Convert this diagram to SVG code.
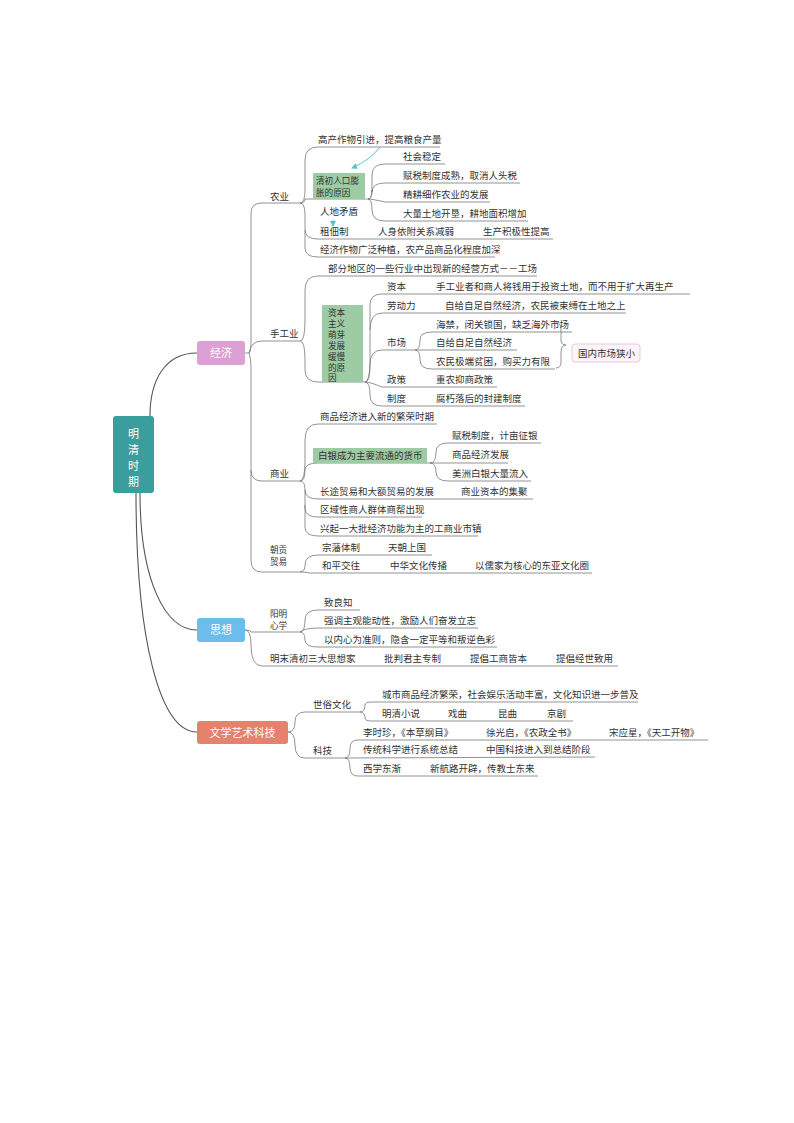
<svg xmlns="http://www.w3.org/2000/svg" width="794" height="1123" viewBox="0 0 794 1123">
<style>
text{font-family:"Noto Sans CJK SC","Liberation Sans",sans-serif;font-size:9.5px;fill:#333}
.s{font-size:8.6px}
.l{fill:none;stroke:#777;stroke-width:0.8}
.t{fill:none;stroke:#555;stroke-width:1.1}
.w{fill:#fff;font-size:11px}
.g{fill:#9dcba4}
.a{fill:none;stroke:#5cc4c4;stroke-width:1}
</style>
<defs><marker id="ar" markerWidth="6" markerHeight="6" refX="5" refY="3" orient="auto"><path d="M0,0 L6,3 L0,6z" fill="#5cc4c4"/></marker></defs>
<rect width="794" height="1123" fill="#fff"/>
<g id="connectors">
<path class="t" d="M150 416 C150 380 165 353 197 353"/>
<path class="t" d="M140 493 C140 580 165 630 197 630"/>
<path class="t" d="M136 493 C136 640 160 732 197 732"/>
<path class="l" d="M245 353 L249 353 Q251 353 251 340 L251 213 Q251 203 262 203 L292 203"/>
<path class="l" d="M249 353 Q251 341 262 341 L300 341"/>
<path class="l" d="M249 353 Q251 358 251 370 L251 470 Q251 481 262 481 L300 481"/>
<path class="l" d="M251 470 L251 560 Q251 572 262 572 L300 572"/>
<path class="l" d="M292 203 L300 203 Q305 203 305 190 L305 160 Q305 147 318 147 L440 147"/>
<path class="l" d="M300 203 Q305 203 305 199 L368 199"/>
<path class="l" d="M300 203 Q305 203 305 215 L305 230 Q305 239 318 239 L553 239"/>
<path class="l" d="M305 230 L305 248 Q305 257 318 257 L495 257"/>
<path class="l" d="M368 199 Q372 199 372 190 L372 175 Q372 164 385 164 L445 164"/>
<path class="l" d="M368 199 Q372 199 372 190 L372 192 Q372 183 385 183 L520 183"/>
<path class="l" d="M368 199 Q372 199 385 202 L490 202"/>
<path class="l" d="M368 199 Q372 199 372 210 Q372 221 385 221 L528 221"/>
<path class="a" d="M380 147 Q370 160 352 168" marker-end="url(#ar)"/>
<path class="a" d="M333 220 L333 226" marker-end="url(#ar)"/>
<path class="l" d="M300 341 Q305 341 305 320 L305 290 Q305 276 318 276 L537 276"/>
<path class="l" d="M300 341 Q305 341 305 360 L305 370 Q305 382 318 382 L365 382"/>
<path class="l" d="M365 382 Q370 382 370 360 L370 305 Q370 294 382 294 L690 294"/>
<path class="l" d="M370 330 Q370 313 382 313 L626 313"/>
<path class="l" d="M365 382 Q370 382 370 365 Q370 350 382 350 L415 350"/>
<path class="l" d="M365 382 Q370 382 382 387 L497 387"/>
<path class="l" d="M365 382 Q370 382 370 395 Q370 406 382 406 L525 406"/>
<path class="l" d="M415 350 Q420 350 420 340 Q420 332 432 332 L572 332"/>
<path class="l" d="M415 350 L517 350"/>
<path class="l" d="M415 350 Q420 350 420 360 Q420 369 432 369 L555 369"/>
<path class="l" d="M556 322 Q561 322 561 330 L561 340 Q561 345 566 345 Q561 345 561 352 L561 362 Q561 368 556 368" stroke="#e8c8d8"/>
<path class="l" d="M300 481 Q305 481 305 460 L305 440 Q305 424 318 424 L437 424"/>
<path class="l" d="M300 481 Q305 481 305 470 Q305 463 318 463 L430 463"/>
<path class="l" d="M300 481 Q305 481 305 490 Q305 499 318 499 L533 499"/>
<path class="l" d="M305 490 L305 508 Q305 517 318 517 L422 517"/>
<path class="l" d="M305 505 L305 527 Q305 536 318 536 L478 536"/>
<path class="l" d="M430 463 Q436 463 436 452 Q436 443 448 443 L541 443"/>
<path class="l" d="M430 463 L508 463"/>
<path class="l" d="M430 463 Q436 463 436 472 Q436 481 448 481 L531 481"/>
<path class="l" d="M300 572 Q305 572 305 565 Q305 555 318 555 L432 555"/>
<path class="l" d="M300 572 Q305 572 310 573 L592 573"/>
<path class="l" d="M245 630 Q251 630 251 632 L262 632 L300 632"/>
<path class="l" d="M245 630 Q251 630 251 645 Q251 666 262 666 L618 666"/>
<path class="l" d="M300 632 Q305 632 305 620 Q305 610 318 610 L360 610"/>
<path class="l" d="M300 632 Q305 628 318 628 L478 628"/>
<path class="l" d="M300 632 Q305 632 305 640 Q305 647 318 647 L497 647"/>
<path class="l" d="M288 732 Q295 732 295 722 Q295 712 305 712 L360 712"/>
<path class="l" d="M288 732 Q295 732 295 745 Q295 758 305 758 L345 758"/>
<path class="l" d="M360 712 Q365 712 365 705 Q365 702 372 702 L638 702"/>
<path class="l" d="M360 712 Q365 712 365 718 Q365 721 372 721 L573 721"/>
<path class="l" d="M345 758 Q350 758 350 748 Q350 740 358 740 L708 740"/>
<path class="l" d="M345 758 L595 757"/>
<path class="l" d="M345 758 Q350 758 350 768 Q350 776 358 776 L538 776"/>
</g>
<g id="root"><rect x="113" y="416" width="41" height="77" rx="3" fill="#3a9e9e"/>
<text class="w" x="133.5" y="438" text-anchor="middle">明</text><text class="w" x="133.5" y="454" text-anchor="middle">清</text><text class="w" x="133.5" y="470" text-anchor="middle">时</text><text class="w" x="133.5" y="486" text-anchor="middle">期</text></g>
<g id="jingji"><rect x="197" y="341" width="48" height="24" rx="3" fill="#dca0d4"/><text class="w" x="221" y="357" text-anchor="middle">经济</text></g>
<g id="sixiang"><rect x="197" y="618" width="48" height="24" rx="3" fill="#6cbcec"/><text class="w" x="221" y="634" text-anchor="middle">思想</text></g>
<g id="wenxue"><rect x="197" y="721" width="91" height="23" rx="3" fill="#e4826e"/><text class="w" x="242.5" y="737" text-anchor="middle">文学艺术科技</text></g>
<g id="nongye"><text x="270" y="200">农业</text>
<text x="318" y="143">高产作物引进，提高粮食产量</text>
<rect class="g" x="313" y="173" width="52" height="26"/><text class="s" x="316" y="184">清初人口膨</text><text class="s" x="316" y="196">胀的原因</text>
<text x="403" y="160">社会稳定</text><text x="403" y="179">赋税制度成熟，取消人头税</text><text x="403" y="198">精耕细作农业的发展</text><text x="403" y="217">大量土地开垦，耕地面积增加</text>
<text x="320" y="215">人地矛盾</text>
<text x="320" y="235">租佃制</text><text x="378" y="235">人身依附关系减弱</text><text x="483" y="235">生产积极性提高</text>
<text x="320" y="253">经济作物广泛种植，农产品商品化程度加深</text></g>
<g id="shougongye"><text x="270" y="337">手工业</text>
<text x="328" y="272">部分地区的一些行业中出现新的经营方式－－工场</text>
<rect class="g" x="322" y="305" width="41" height="77"/>
<text class="s" x="328" y="316">资本</text><text class="s" x="328" y="327">主义</text><text class="s" x="328" y="338">萌芽</text><text class="s" x="328" y="349">发展</text><text class="s" x="328" y="360">缓慢</text><text class="s" x="328" y="371">的原</text><text class="s" x="328" y="381">因</text>
<text x="387" y="290">资本</text><text x="436" y="290">手工业者和商人将钱用于投资土地，而不用于扩大再生产</text>
<text x="387" y="309">劳动力</text><text x="445" y="309">自给自足自然经济，农民被束缚在土地之上</text>
<text x="387" y="346">市场</text><text x="436" y="328">海禁，闭关锁国，缺乏海外市场</text><text x="436" y="346">自给自足自然经济</text><text x="436" y="365">农民极端贫困，购买力有限</text>
<rect x="572" y="344" width="68" height="18" rx="3" fill="#fdf3f8" stroke="#e8c8d8"/><text x="578" y="357">国内市场狭小</text>
<text x="387" y="383">政策</text><text x="436" y="383">重农抑商政策</text>
<text x="387" y="402">制度</text><text x="436" y="402">腐朽落后的封建制度</text></g>
<g id="shangye"><text x="270" y="477">商业</text>
<text x="320" y="420">商品经济进入新的繁荣时期</text>
<rect class="g" x="313" y="448" width="114" height="15"/><text x="318" y="459">白银成为主要流通的货币</text>
<text x="452" y="439">赋税制度，计亩征银</text><text x="452" y="458">商品经济发展</text><text x="452" y="477">美洲白银大量流入</text>
<text x="320" y="495">长途贸易和大额贸易的发展</text><text x="461" y="495">商业资本的集聚</text>
<text x="320" y="513">区域性商人群体商帮出现</text>
<text x="320" y="532">兴起一大批经济功能为主的工商业市镇</text></g>
<g id="chaogong"><text class="s" x="270" y="553">朝贡</text><text class="s" x="270" y="565">贸易</text>
<text x="322" y="551">宗藩体制</text><text x="388" y="551">天朝上国</text>
<text x="322" y="569">和平交往</text><text x="390" y="569">中华文化传播</text><text x="475" y="569">以儒家为核心的东亚文化圈</text></g>
<g id="yangming"><text class="s" x="270" y="617">阳明</text><text class="s" x="270" y="629">心学</text>
<text x="324" y="606">致良知</text><text x="324" y="624">强调主观能动性，激励人们奋发立志</text><text x="324" y="643">以内心为准则，隐含一定平等和叛逆色彩</text>
<text x="270" y="662">明末清初三大思想家</text><text x="384" y="662">批判君主专制</text><text x="470" y="662">提倡工商皆本</text><text x="556" y="662">提倡经世致用</text></g>
<g id="wenhua"><text x="313" y="708">世俗文化</text>
<text x="382" y="698">城市商品经济繁荣，社会娱乐活动丰富，文化知识进一步普及</text>
<text x="382" y="717">明清小说</text><text x="448" y="717">戏曲</text><text x="498" y="717">昆曲</text><text x="547" y="717">京剧</text>
<text x="313" y="754">科技</text>
<text x="363" y="736">李时珍，《本草纲目》</text><text x="486" y="736">徐光启，《农政全书》</text><text x="609" y="736">宋应星，《天工开物》</text>
<text x="363" y="753">传统科学进行系统总结</text><text x="486" y="753">中国科技进入到总结阶段</text>
<text x="363" y="772">西学东渐</text><text x="430" y="772">新航路开辟，传教士东来</text></g>
</svg>
